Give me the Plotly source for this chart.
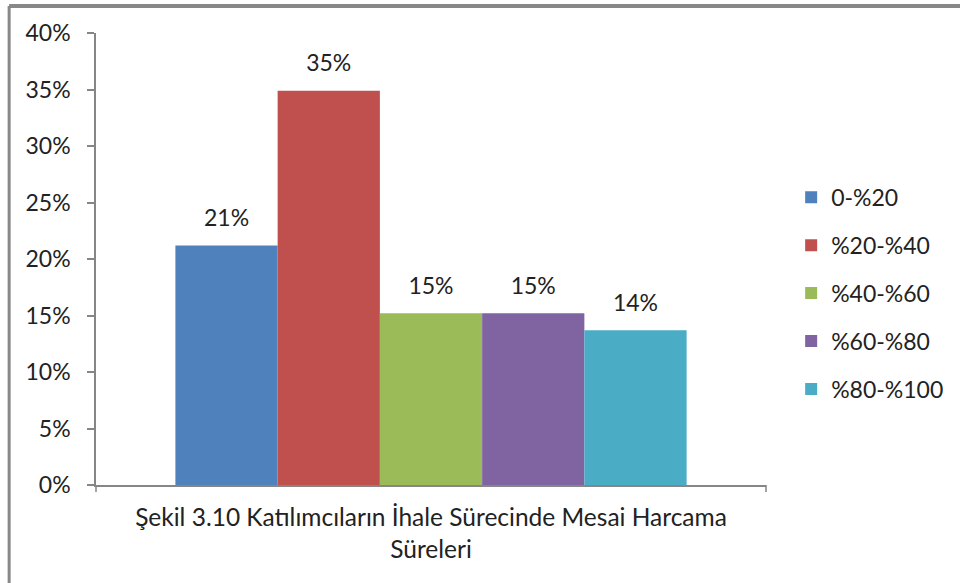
import plotly.graph_objects as go

categories = ["Şekil 3.10 Katılımcıların İhale Sürecinde Mesai Harcama<br>Süreleri"]
series_names = ["0-%20", "%20-%40", "%40-%60", "%60-%80", "%80-%100"]
values = [0.212, 0.349, 0.152, 0.152, 0.137]
colors = ["#4F81BD", "#C0504D", "#9BBB59", "#8064A2", "#4BACC6"]
y_ticks = [0, 0.05, 0.10, 0.15, 0.20, 0.25, 0.30, 0.35, 0.40]
y_tick_labels = ["0%", "5%", "10%", "15%", "20%", "25%", "30%", "35%", "40%"]

FONT = "Lato"
FS = 23
GAP = 0.237
fig = go.Figure()
for name, v, c in zip(series_names, values, colors):
    fig.add_trace(go.Bar(
        x=categories, y=[v], name=name, marker=dict(color=c, line=dict(width=0)),
        offsetgroup=name, legendgroup=name,
    ))
for name, v in zip(series_names, values):
    fig.add_trace(go.Scatter(
        x=categories, y=[v], mode="markers+text", offsetgroup=name,
        marker=dict(size=20, color="rgba(0,0,0,0)"),
        text=[f"{v:.0%}"], textposition="top center", cliponaxis=False,
        textfont=dict(family=FONT, size=FS, color="#222"),
        showlegend=False, hoverinfo="skip",
    ))

BX = (9 - 96) / 671
BY = (485 - 6) / 452
border = dict(color="#888888", width=4)
fig.update_layout(
    width=960, height=583,
    margin=dict(l=96, r=193, t=33, b=98),
    paper_bgcolor="white", plot_bgcolor="white",
    barmode="group", bargap=GAP, bargroupgap=0,
    scattermode="group", scattergap=GAP,
    font=dict(family=FONT, size=FS, color="#222"),
    showlegend=True,
    legend=dict(x=1.036, y=0.424, xanchor="left", yanchor="middle",
                font=dict(family=FONT, size=FS, color="#222"),
                tracegroupgap=15, traceorder="grouped", itemwidth=30,
                bgcolor="rgba(0,0,0,0)"),
    xaxis=dict(showline=True, linecolor="#868686", linewidth=1.5,
               ticks="", showgrid=False,
               tickfont=dict(family=FONT, size=24.5, color="#222"),
               ticklabelstandoff=10),
    yaxis=dict(range=[0, 0.40], tickvals=y_ticks, ticktext=y_tick_labels,
               showline=True, linecolor="#868686", linewidth=1.5,
               ticks="outside", ticklen=7, tickcolor="#868686", tickwidth=1.5,
               showgrid=False, zeroline=False, ticklabelstandoff=12,
               tickfont=dict(family=FONT, size=FS, color="#222")),
    shapes=[
        dict(type="line", xref="paper", yref="paper", x0=BX, x1=1.4, y0=BY, y1=BY, line=border),
        dict(type="line", xref="paper", yref="paper", x0=BX, x1=BX, y0=BY, y1=-0.4,
             line=dict(color="#888888", width=3)),
        dict(type="line", xref="paper", yref="paper", x0=1, x1=1, y0=0, y1=-7 / 452,
             line=dict(color="#868686", width=1.5)),
        dict(type="line", xref="paper", yref="paper", x0=0, x1=0, y0=0, y1=-7 / 452,
             line=dict(color="#868686", width=1.5)),
    ],
)

fig.write_html("out.html", config={"displayModeBar": False},
               post_script="document.body.style.margin='0';document.body.style.overflow='hidden';")
